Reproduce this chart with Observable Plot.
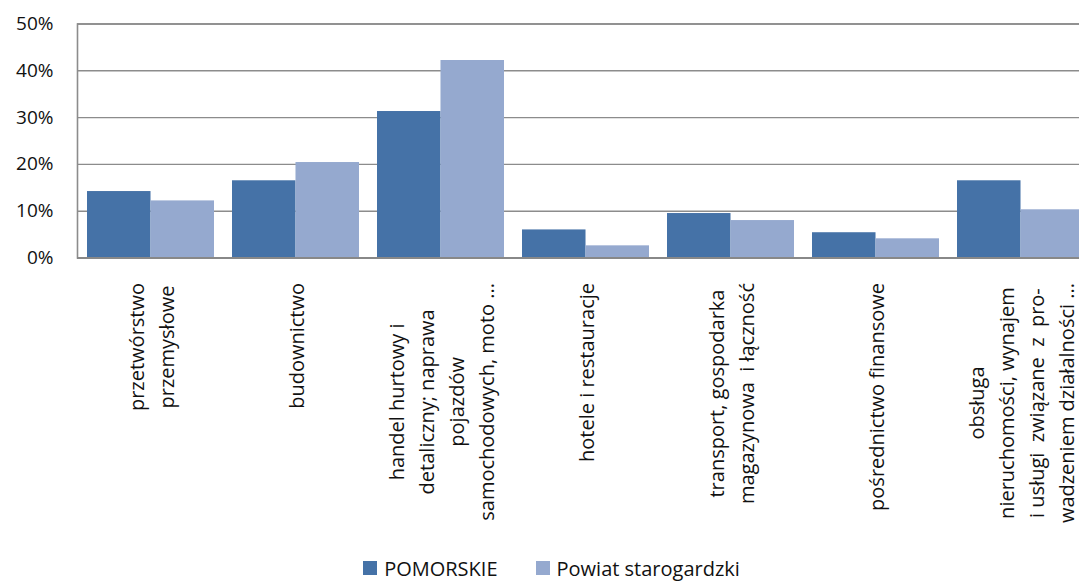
<!DOCTYPE html>
<html>
<head>
<meta charset="utf-8">
<script src="https://cdn.jsdelivr.net/npm/d3@7"></script>
<script src="https://cdn.jsdelivr.net/npm/@observablehq/plot@0.6"></script>
<style>
  html, body { margin: 0; padding: 0; background: #fff; overflow: hidden; }
  #chart { width: 1079px; overflow: hidden; }
  .legend { display: flex; justify-content: center; align-items: center; height: 26px; padding-left: 24px; padding-top: 3px;
            font-family: "Open Sans", sans-serif; font-size: 20px; color: #111; }
  .legend .item { display: flex; align-items: center; margin: 0 19px; }
  .legend .sw { width: 14px; height: 14px; margin-right: 7px; }
</style>
</head>
<body>
<div id="chart"></div>
<script>
const categories = [
  "przetwórstwo\nprzemysłowe",
  "budownictwo",
  "handel hurtowy i\ndetaliczny; naprawa\npojazdów\nsamochodowych, moto ...",
  "hotele i restauracje",
  "transport, gospodarka\nmagazynowa  i łączność",
  "pośrednictwo finansowe",
  "obsługa\nnieruchomości, wynajem\ni usługi  związane  z  pro-\nwadzeniem działalności ..."
];
const series = ["POMORSKIE", "Powiat starogardzki"];
const pomorskie = [14.2, 16.5, 31.3, 6.0, 9.5, 5.4, 16.5];
const powiat = [12.2, 20.4, 42.2, 2.6, 8.0, 4.1, 10.3];
const yTicks = [0, 0.1, 0.2, 0.3, 0.4, 0.5];
const colors = ["#4572a7", "#95a9cf"];

const data = categories.flatMap((c, i) => [
  {cat: c, series: series[0], value: pomorskie[i] / 100},
  {cat: c, series: series[1], value: powiat[i] / 100}
]);

const W = 1079, ML = 77, MR = -15;
const padIn = 0.126, padOut = 0.063;
const step = (W - MR - ML) / (categories.length - padIn + 2 * padOut);
const bw = step * (1 - padIn);

const chart = Plot.plot({
  width: W,
  height: 552,
  marginLeft: ML,
  marginRight: MR,
  marginTop: 23.5,
  marginBottom: 552 - 257.5,
  style: {fontFamily: "'Open Sans', sans-serif", fontSize: "19px", color: "#111", background: "#fff"},
  x: {domain: categories, paddingInner: padIn, paddingOuter: padOut, label: null},
  y: {domain: [0, 0.5], label: null},
  color: {domain: series, range: colors},
  marks: [
    Plot.ruleY(yTicks.slice(1), {stroke: "#8c8c8c", strokeWidth: 1.4}),
    Plot.barY(data.filter(d => d.series === series[0]), {x: "cat", y: "value", fill: "series", insetRight: bw / 2}),
    Plot.barY(data.filter(d => d.series === series[1]), {x: "cat", y: "value", fill: "series", insetLeft: bw / 2}),
    Plot.frame({stroke: "#8c8c8c", strokeWidth: 1.6}),
    Plot.ruleY([0], {stroke: "#888", strokeWidth: 2}),
    Plot.axisY({ticks: yTicks, tickFormat: d3.format(".0%"), tickSize: 0, tickPadding: 24, fontSize: 19, label: null}),
    Plot.axisX({tickRotate: -90, tickSize: 0, tickPadding: 25, fontSize: 20, lineHeight: 1.5, dx: -2, label: null})
  ]
});
document.getElementById("chart").append(chart);

// center each line of multi-line rotated labels within its block (like the original)
chart.querySelectorAll("text").forEach(t => {
  const spans = t.querySelectorAll("tspan");
  if (spans.length < 2) return;
  let max = 0;
  spans.forEach(s => { max = Math.max(max, s.getComputedTextLength()); });
  t.setAttribute("text-anchor", "middle");
  t.style.textAnchor = "middle";
  spans.forEach(s => { s.setAttribute("x", -max / 2); s.setAttribute("text-anchor", "middle"); });
});

// legend
const legend = document.createElement("div");
legend.className = "legend";
series.forEach((s, i) => {
  const item = document.createElement("div");
  item.className = "item";
  const sw = document.createElement("span");
  sw.className = "sw";
  sw.style.background = colors[i];
  const lab = document.createElement("span");
  lab.textContent = s;
  item.append(sw, lab);
  legend.append(item);
});
document.body.append(legend);
</script>
</body>
</html>
